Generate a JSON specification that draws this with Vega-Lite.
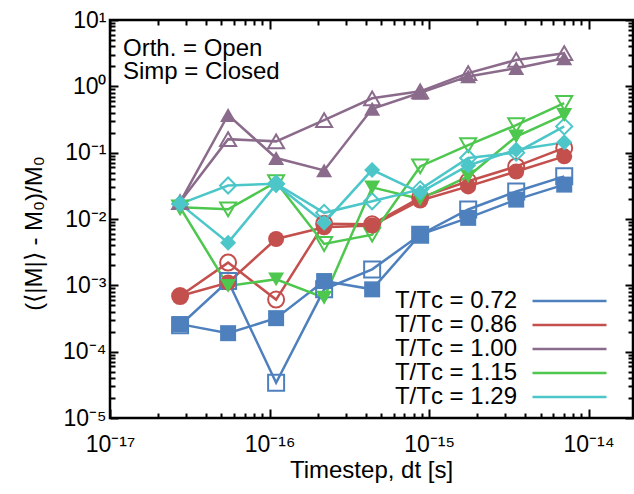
{
  "$schema": "https://vega.github.io/schema/vega-lite/v6.json",
  "width": 523,
  "height": 398,
  "autosize": {"type": "none"},
  "padding": {"left": 110, "top": 20, "right": 1, "bottom": 76},
  "config": {
    "font": "Liberation Sans",
    "view": {"stroke": "#000", "strokeWidth": 2.5},
    "axis": {
      "domain": false, "grid": false, "tickColor": "#000", "tickWidth": 2,
      "labelColor": "#000", "titleColor": "#000", "labelFont": "Liberation Sans", "titleFont": "Liberation Sans",
      "labelFontSize": 23, "titleFontSize": 24, "titleFontWeight": "normal",
      "labelFlush": false, "labelOverlap": false, "labelBound": false
    }
  },
  "data": {"values": [
    {"T": "0.72", "m": "Orth", "dt": 2.75e-17, "v": 2.5e-4},
    {"T": "0.72", "m": "Orth", "dt": 5.5e-17, "v": 1.16e-3},
    {"T": "0.72", "m": "Orth", "dt": 1.1e-16, "v": 3.4e-5},
    {"T": "0.72", "m": "Orth", "dt": 2.2e-16, "v": 8.7e-4},
    {"T": "0.72", "m": "Orth", "dt": 4.4e-16, "v": 1.74e-3},
    {"T": "0.72", "m": "Orth", "dt": 8.8e-16, "v": 5.8e-3},
    {"T": "0.72", "m": "Orth", "dt": 1.76e-15, "v": 0.0139},
    {"T": "0.72", "m": "Orth", "dt": 3.52e-15, "v": 0.026},
    {"T": "0.72", "m": "Orth", "dt": 7.04e-15, "v": 0.044},
    {"T": "0.72", "m": "Simp", "dt": 2.75e-17, "v": 2.6e-4},
    {"T": "0.72", "m": "Simp", "dt": 5.5e-17, "v": 1.9e-4},
    {"T": "0.72", "m": "Simp", "dt": 1.1e-16, "v": 3.2e-4},
    {"T": "0.72", "m": "Simp", "dt": 2.2e-16, "v": 1.16e-3},
    {"T": "0.72", "m": "Simp", "dt": 4.4e-16, "v": 8.7e-4},
    {"T": "0.72", "m": "Simp", "dt": 8.8e-16, "v": 5.8e-3},
    {"T": "0.72", "m": "Simp", "dt": 1.76e-15, "v": 0.0104},
    {"T": "0.72", "m": "Simp", "dt": 3.52e-15, "v": 0.0196},
    {"T": "0.72", "m": "Simp", "dt": 7.04e-15, "v": 0.033},
    {"T": "0.86", "m": "Orth", "dt": 2.75e-17, "v": 6.9e-4},
    {"T": "0.86", "m": "Orth", "dt": 5.5e-17, "v": 2.2e-3},
    {"T": "0.86", "m": "Orth", "dt": 1.1e-16, "v": 6.1e-4},
    {"T": "0.86", "m": "Orth", "dt": 2.2e-16, "v": 8.5e-3},
    {"T": "0.86", "m": "Orth", "dt": 4.4e-16, "v": 8.3e-3},
    {"T": "0.86", "m": "Orth", "dt": 8.8e-16, "v": 0.021},
    {"T": "0.86", "m": "Orth", "dt": 1.76e-15, "v": 0.037},
    {"T": "0.86", "m": "Orth", "dt": 3.52e-15, "v": 0.062},
    {"T": "0.86", "m": "Orth", "dt": 7.04e-15, "v": 0.118},
    {"T": "0.86", "m": "Simp", "dt": 2.75e-17, "v": 6.9e-4},
    {"T": "0.86", "m": "Simp", "dt": 5.5e-17, "v": 1.1e-3},
    {"T": "0.86", "m": "Simp", "dt": 1.1e-16, "v": 5.0e-3},
    {"T": "0.86", "m": "Simp", "dt": 2.2e-16, "v": 7.5e-3},
    {"T": "0.86", "m": "Simp", "dt": 4.4e-16, "v": 8.0e-3},
    {"T": "0.86", "m": "Simp", "dt": 8.8e-16, "v": 0.019},
    {"T": "0.86", "m": "Simp", "dt": 1.76e-15, "v": 0.031},
    {"T": "0.86", "m": "Simp", "dt": 3.52e-15, "v": 0.052},
    {"T": "0.86", "m": "Simp", "dt": 7.04e-15, "v": 0.088},
    {"T": "1.00", "m": "Orth", "dt": 2.75e-17, "v": 0.018},
    {"T": "1.00", "m": "Orth", "dt": 5.5e-17, "v": 0.16},
    {"T": "1.00", "m": "Orth", "dt": 1.1e-16, "v": 0.148},
    {"T": "1.00", "m": "Orth", "dt": 2.2e-16, "v": 0.31},
    {"T": "1.00", "m": "Orth", "dt": 4.4e-16, "v": 0.66},
    {"T": "1.00", "m": "Orth", "dt": 8.8e-16, "v": 0.84},
    {"T": "1.00", "m": "Orth", "dt": 1.76e-15, "v": 1.58},
    {"T": "1.00", "m": "Orth", "dt": 3.52e-15, "v": 2.5},
    {"T": "1.00", "m": "Orth", "dt": 7.04e-15, "v": 3.16},
    {"T": "1.00", "m": "Simp", "dt": 2.75e-17, "v": 0.018},
    {"T": "1.00", "m": "Simp", "dt": 5.5e-17, "v": 0.37},
    {"T": "1.00", "m": "Simp", "dt": 1.1e-16, "v": 0.083},
    {"T": "1.00", "m": "Simp", "dt": 2.2e-16, "v": 0.054},
    {"T": "1.00", "m": "Simp", "dt": 4.4e-16, "v": 0.46},
    {"T": "1.00", "m": "Simp", "dt": 8.8e-16, "v": 0.8},
    {"T": "1.00", "m": "Simp", "dt": 1.76e-15, "v": 1.41},
    {"T": "1.00", "m": "Simp", "dt": 3.52e-15, "v": 1.88},
    {"T": "1.00", "m": "Simp", "dt": 7.04e-15, "v": 2.65},
    {"T": "1.15", "m": "Orth", "dt": 2.75e-17, "v": 0.015},
    {"T": "1.15", "m": "Orth", "dt": 5.5e-17, "v": 0.014},
    {"T": "1.15", "m": "Orth", "dt": 1.1e-16, "v": 0.036},
    {"T": "1.15", "m": "Orth", "dt": 2.2e-16, "v": 4.2e-3},
    {"T": "1.15", "m": "Orth", "dt": 4.4e-16, "v": 5.8e-3},
    {"T": "1.15", "m": "Orth", "dt": 8.8e-16, "v": 0.062},
    {"T": "1.15", "m": "Orth", "dt": 1.76e-15, "v": 0.13},
    {"T": "1.15", "m": "Orth", "dt": 3.52e-15, "v": 0.26},
    {"T": "1.15", "m": "Orth", "dt": 7.04e-15, "v": 0.56},
    {"T": "1.15", "m": "Simp", "dt": 2.75e-17, "v": 0.015},
    {"T": "1.15", "m": "Simp", "dt": 5.5e-17, "v": 9.8e-4},
    {"T": "1.15", "m": "Simp", "dt": 1.1e-16, "v": 1.23e-3},
    {"T": "1.15", "m": "Simp", "dt": 2.2e-16, "v": 6.5e-4},
    {"T": "1.15", "m": "Simp", "dt": 4.4e-16, "v": 0.03},
    {"T": "1.15", "m": "Simp", "dt": 8.8e-16, "v": 0.02},
    {"T": "1.15", "m": "Simp", "dt": 1.76e-15, "v": 0.044},
    {"T": "1.15", "m": "Simp", "dt": 3.52e-15, "v": 0.175},
    {"T": "1.15", "m": "Simp", "dt": 7.04e-15, "v": 0.37},
    {"T": "1.29", "m": "Orth", "dt": 2.75e-17, "v": 0.0169},
    {"T": "1.29", "m": "Orth", "dt": 5.5e-17, "v": 0.032},
    {"T": "1.29", "m": "Orth", "dt": 1.1e-16, "v": 0.034},
    {"T": "1.29", "m": "Orth", "dt": 2.2e-16, "v": 0.0124},
    {"T": "1.29", "m": "Orth", "dt": 4.4e-16, "v": 0.0185},
    {"T": "1.29", "m": "Orth", "dt": 8.8e-16, "v": 0.028},
    {"T": "1.29", "m": "Orth", "dt": 1.76e-15, "v": 0.083},
    {"T": "1.29", "m": "Orth", "dt": 3.52e-15, "v": 0.1},
    {"T": "1.29", "m": "Orth", "dt": 7.04e-15, "v": 0.249},
    {"T": "1.29", "m": "Simp", "dt": 2.75e-17, "v": 0.0169},
    {"T": "1.29", "m": "Simp", "dt": 5.5e-17, "v": 4.4e-3},
    {"T": "1.29", "m": "Simp", "dt": 1.1e-16, "v": 0.033},
    {"T": "1.29", "m": "Simp", "dt": 2.2e-16, "v": 8.8e-3},
    {"T": "1.29", "m": "Simp", "dt": 4.4e-16, "v": 0.055},
    {"T": "1.29", "m": "Simp", "dt": 8.8e-16, "v": 0.025},
    {"T": "1.29", "m": "Simp", "dt": 1.76e-15, "v": 0.064},
    {"T": "1.29", "m": "Simp", "dt": 3.52e-15, "v": 0.111},
    {"T": "1.29", "m": "Simp", "dt": 7.04e-15, "v": 0.143}
  ]},
  "layer": [
    {
      "mark": {"type": "line", "strokeWidth": 2.5},
      "encoding": {
        "x": {"field": "dt", "type": "quantitative",
          "scale": {"type": "log", "domain": [1e-17, 1.9e-14], "nice": false},
          "axis": {"orient": "bottom", "title": "Timestep, dt [s]",
            "values": [1e-17,2e-17,3e-17,4e-17,5e-17,6e-17,7e-17,8e-17,9e-17,1e-16,2e-16,3e-16,4e-16,5e-16,6e-16,7e-16,8e-16,9e-16,1e-15,2e-15,3e-15,4e-15,5e-15,6e-15,7e-15,8e-15,9e-15,1e-14],
            "tickSize": {"condition": {"test": "abs(log(datum.value)/LN10 - round(log(datum.value)/LN10)) < 0.001", "value": -9}, "value": -5},
            "labelExpr": "abs(log(datum.value)/LN10 - round(log(datum.value)/LN10)) > 0.001 ? '' : '10' + (round(log(datum.value)/LN10) == -17 ? '⁻¹⁷' : round(log(datum.value)/LN10) == -16 ? '⁻¹⁶' : round(log(datum.value)/LN10) == -15 ? '⁻¹⁵' : '⁻¹⁴')",
            "labelPadding": 24, "titleX": 261, "titleY": 59, "titleBaseline": "alphabetic"}},
        "y": {"field": "v", "type": "quantitative",
          "scale": {"type": "log", "domain": [1e-5, 10], "nice": false},
          "axis": {"orient": "left", "title": "(⟨|M|⟩ - M₀)/M₀",
            "values": [1e-5,2e-5,3e-5,4e-5,5e-5,6e-5,7e-5,8e-5,9e-5,1e-4,2e-4,3e-4,4e-4,5e-4,6e-4,7e-4,8e-4,9e-4,1e-3,2e-3,3e-3,4e-3,5e-3,6e-3,7e-3,8e-3,9e-3,0.01,0.02,0.03,0.04,0.05,0.06,0.07,0.08,0.09,0.1,0.2,0.3,0.4,0.5,0.6,0.7,0.8,0.9,1,2,3,4,5,6,7,8,9,10],
            "tickSize": {"condition": {"test": "abs(log(datum.value)/LN10 - round(log(datum.value)/LN10)) < 0.001", "value": -8}, "value": -5},
            "labelExpr": "abs(log(datum.value)/LN10 - round(log(datum.value)/LN10)) > 0.001 ? '' : '10' + (round(log(datum.value)/LN10) == 1 ? '¹' : round(log(datum.value)/LN10) == 0 ? '⁰' : round(log(datum.value)/LN10) == -1 ? '⁻¹' : round(log(datum.value)/LN10) == -2 ? '⁻²' : round(log(datum.value)/LN10) == -3 ? '⁻³' : round(log(datum.value)/LN10) == -4 ? '⁻⁴' : '⁻⁵')",
            "labelPadding": 12, "titleX": -76, "titleY": 213, "titleAngle": -90, "titleBaseline": "middle", "titleAlign": "center"}},
        "stroke": {"field": "T", "type": "nominal",
          "scale": {"domain": {"unionWith": ["0.72"]}, "range": ["#4e80bd", "#c4504e", "#8b6b8b", "#4dc74d", "#4cc6c8"]},
          "legend": {"orient": "bottom-right", "offset": 9, "title": null, "direction": "vertical",
            "symbolType": "stroke", "symbolSize": 5476, "symbolStrokeWidth": 2.5,
            "labelExpr": "'x'", "labelOpacity": 0, "labelAlign": "right", "labelOffset": 15.5, "labelBaseline": "middle",
            "labelFontSize": 24, "labelFont": "Liberation Sans", "clipHeight": 24, "rowPadding": 0, "padding": 0}},
        "detail": {"field": "m", "type": "nominal"}
      }
    },
    {
      "transform": [{"filter": "datum.m == 'Orth'"}],
      "mark": {"type": "point", "filled": false, "strokeWidth": 2, "opacity": 1},
      "encoding": {
        "x": {"field": "dt", "type": "quantitative", "axis": null},
        "y": {"field": "v", "type": "quantitative", "axis": null},
        "color": {"field": "T", "type": "nominal",
          "scale": {"domain": ["0.72", "0.86", "1.00", "1.15", "1.29"], "range": ["#4e80bd", "#c4504e", "#8b6b8b", "#4dc74d", "#4cc6c8"]},
          "legend": {"orient": "none", "legendX": 448, "legendY": 269, "title": null, "direction": "vertical",
            "labelExpr": "'T/Tᴄ = ' + datum.label", "labelAlign": "right", "labelOffset": -65, "labelBaseline": "middle",
            "labelFontSize": 24, "labelFont": "Liberation Sans", "labelColor": "#000", "labelLimit": 300,
            "symbolStrokeWidth": 2.2, "clipHeight": 24, "rowPadding": 0, "padding": 0}},
        "shape": {"field": "T", "type": "nominal",
          "scale": {"domain": ["0.72", "0.86", "1.00", "1.15", "1.29"], "range": ["square", "circle", "triangle-up", "triangle-down", "diamond"]},
          "legend": null},
        "size": {"field": "T", "type": "nominal",
          "scale": {"domain": ["0.72", "0.86", "1.00", "1.15", "1.29"], "range": [256, 256, 340, 340, 290]},
          "legend": null}
      }
    },
    {
      "transform": [{"filter": "datum.m == 'Simp'"}],
      "mark": {"type": "point", "filled": true, "opacity": 1},
      "encoding": {
        "x": {"field": "dt", "type": "quantitative",
          "axis": {"orient": "top", "title": null, "labels": false,
            "values": [1e-17,2e-17,3e-17,4e-17,5e-17,6e-17,7e-17,8e-17,9e-17,1e-16,2e-16,3e-16,4e-16,5e-16,6e-16,7e-16,8e-16,9e-16,1e-15,2e-15,3e-15,4e-15,5e-15,6e-15,7e-15,8e-15,9e-15,1e-14],
            "tickSize": {"condition": {"test": "abs(log(datum.value)/LN10 - round(log(datum.value)/LN10)) < 0.001", "value": -9}, "value": -5}}},
        "y": {"field": "v", "type": "quantitative",
          "axis": {"orient": "right", "title": null, "labels": false,
            "values": [1e-5,2e-5,3e-5,4e-5,5e-5,6e-5,7e-5,8e-5,9e-5,1e-4,2e-4,3e-4,4e-4,5e-4,6e-4,7e-4,8e-4,9e-4,1e-3,2e-3,3e-3,4e-3,5e-3,6e-3,7e-3,8e-3,9e-3,0.01,0.02,0.03,0.04,0.05,0.06,0.07,0.08,0.09,0.1,0.2,0.3,0.4,0.5,0.6,0.7,0.8,0.9,1,2,3,4,5,6,7,8,9,10],
            "tickSize": {"condition": {"test": "abs(log(datum.value)/LN10 - round(log(datum.value)/LN10)) < 0.001", "value": -8}, "value": -5}}},
        "fill": {"field": "T", "type": "nominal",
          "scale": {"domain": ["0.72", "0.86", "1.00", "1.15", "1.29"], "range": ["#4e80bd", "#c4504e", "#8b6b8b", "#4dc74d", "#4cc6c8"]},
          "legend": null},
        "shape": {"field": "T", "type": "nominal", "legend": null},
        "size": {"field": "T", "type": "nominal", "legend": null}
      }
    },
    {
      "data": {"values": [{"note": "Orth. = Open\nSimp = Closed"}]},
      "mark": {"type": "text", "align": "left", "baseline": "alphabetic", "fontSize": 24, "lineBreak": "\n", "lineHeight": 23, "font": "Liberation Sans", "color": "#000"},
      "encoding": {
        "x": {"datum": 1.206e-17, "type": "quantitative", "axis": null},
        "y": {"datum": 2.87, "type": "quantitative", "axis": null},
        "text": {"field": "note", "type": "nominal"}
      }
    }
  ],
  "resolve": {"axis": {"x": "independent", "y": "independent"}}
}
